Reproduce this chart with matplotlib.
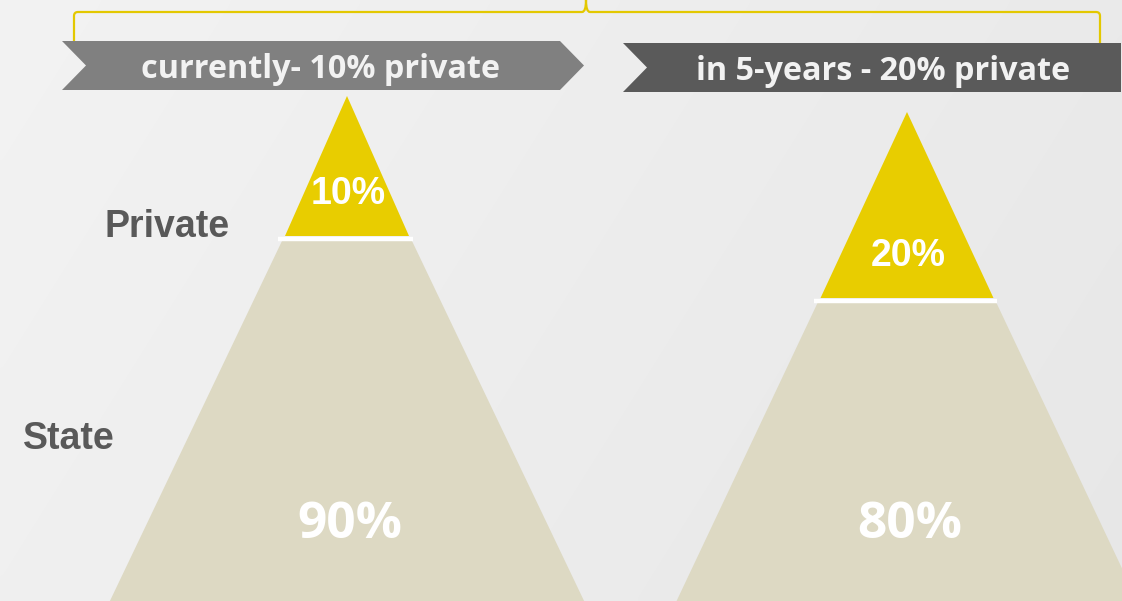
import numpy as np
import matplotlib
matplotlib.use("Agg")
import matplotlib.pyplot as plt
from matplotlib.patches import Polygon, PathPatch
from matplotlib.path import Path

# --- data ---
scenarios = ["currently- 10% private", "in 5-years - 20% private"]
private_share = [10, 20]
state_share = [90, 80]
row_labels = ["Private", "State"]

# --- layout (pixel units, y grows downward) ---
W, H = 1122, 601
apex_x = [347, 907]
apex_y = [96, 112]
tip_depth = [140, 186]          # height of the yellow tip
tip_slope = [0.443, 0.465]      # half-width per pixel of height (tip)
base_slope = [0.478, 0.473]     # half-width per pixel of height (lower block)
banner_x = [(62, 584), (623, 1121)]
banner_y = [(41, 90), (43, 92)]
banner_colors = ["#808080", "#5a5a5a"]
banner_text_x = [321, 883]
banner_text_base = [78, 80]

YELLOW = "#e8cd00"
BEIGE = "#ddd9c3"

fig = plt.figure(figsize=(W / 100, H / 100), dpi=100)
ax = fig.add_axes([0, 0, 1, 1])
ax.set_xlim(0, W)
ax.set_ylim(H, 0)
ax.axis("off")

# soft grey background gradient
gx = np.linspace(0, 1, 256)
gy = np.linspace(0, 1, 128)
GX, GY = np.meshgrid(gx, gy)
shade = 0.952 - 0.045 * (0.75 * GX + 0.25 * GY)
bg = np.dstack([shade, shade, shade])
ax.imshow(bg, extent=[0, W, H, 0], aspect="auto", zorder=0, interpolation="bicubic")

for i in range(2):
    cx, ay = apex_x[i], apex_y[i]
    split = ay + tip_depth[i]
    hw_tip = tip_depth[i] * tip_slope[i]
    # yellow tip
    ax.add_patch(Polygon([(cx, ay), (cx - hw_tip, split), (cx + hw_tip, split)],
                         closed=True, facecolor=YELLOW, edgecolor="none", zorder=2))
    # beige block below
    top = split + 5
    hw_top = hw_tip + 3
    hw_bot = hw_top + (H + 20 - top) * base_slope[i]
    ax.add_patch(Polygon([(cx - hw_top, top), (cx + hw_top, top),
                          (cx + hw_bot, H + 20), (cx - hw_bot, H + 20)],
                         closed=True, facecolor=BEIGE, edgecolor="none", zorder=2))
    # white separator
    ax.plot([cx - hw_tip - 7, cx + hw_tip + 4], [split + 3, split + 3],
            color="white", lw=3.2, solid_capstyle="butt", zorder=3)
    # value labels
    ax.text(cx + 1, split - 42, f"{private_share[i]}%", color="white",
            fontsize=27, fontweight="bold", family="Liberation Sans",
            ha="center", va="center", zorder=4)
    ax.text(cx + 3, 525, f"{state_share[i]}%", color="white",
            fontsize=37, fontweight="bold", family="Open Sans",
            ha="center", va="center", zorder=4)

# chevron banners
for i in range(2):
    x0, x1 = banner_x[i]
    y0, y1 = banner_y[i]
    ym = (y0 + y1) / 2
    notch = 24
    if i == 0:
        pts = [(x0, y0), (x1 - notch, y0), (x1, ym), (x1 - notch, y1),
               (x0, y1), (x0 + notch, ym)]
    else:
        pts = [(x0, y0), (x1, y0), (x1, y1), (x0, y1), (x0 + notch, ym)]
    ax.add_patch(Polygon(pts, closed=True, facecolor=banner_colors[i],
                         edgecolor="none", zorder=3))
    ax.text(banner_text_x[i], banner_text_base[i], scenarios[i], color="#f2f2f2",
            fontsize=23.3, fontweight="bold", family="Open Sans",
            ha="center", va="baseline", zorder=4)

# curly brace spanning both scenarios
r = 4
verts = [(74, 41), (74, 12 + r), (74, 12), (74 + r, 12),
         (582, 12), (586, 12), (586, 0),
         (586, 12), (590, 12),
         (1096, 12), (1100, 12), (1100, 12 + r), (1100, 43)]
codes = [Path.MOVETO, Path.LINETO, Path.CURVE3, Path.CURVE3,
         Path.LINETO, Path.CURVE3, Path.CURVE3,
         Path.CURVE3, Path.CURVE3,
         Path.LINETO, Path.CURVE3, Path.CURVE3, Path.LINETO]
ax.add_patch(PathPatch(Path(verts, codes), facecolor="none",
                       edgecolor="#e3c800", lw=1.6, zorder=2))

# row labels
ax.text(167, 227, row_labels[0], color="#595959", fontsize=27,
        fontweight="bold", family="Liberation Sans", ha="center", va="center", zorder=4)
ax.text(69, 439, row_labels[1], color="#595959", fontsize=27,
        fontweight="bold", family="Liberation Sans", ha="center", va="center", zorder=4)

fig.savefig("out.png", dpi=100)
